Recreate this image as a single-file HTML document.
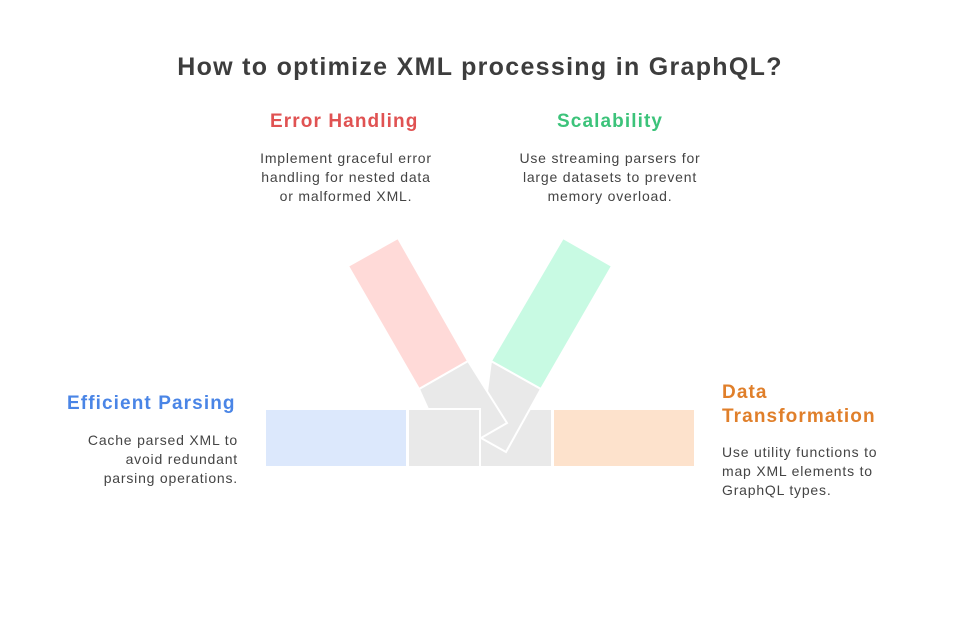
<!DOCTYPE html>
<html><head><meta charset="utf-8"><style>
body{margin:0;width:960px;height:624px;background:#fff;position:relative;overflow:hidden;font-family:"Liberation Sans",sans-serif}
.t{position:absolute;white-space:nowrap}
.h{font-weight:bold;font-size:19px;letter-spacing:1.1px}
.d{font-size:14px;line-height:19px;color:#444;letter-spacing:0.8px}
</style></head><body>
<div class="t" style="left:0;width:960px;text-align:center;top:53px;font-size:25px;font-weight:bold;color:#3d3d3d;letter-spacing:1.3px">How to optimize XML processing in GraphQL?</div>
<div class="t h" style="left:270px;top:111px;color:#e05252">Error Handling</div>
<div class="t d" style="left:236px;width:220px;text-align:center;top:149px">Implement graceful error<br>handling for nested data<br>or malformed XML.</div>
<div class="t h" style="left:557px;top:111px;color:#3cc37a">Scalability</div>
<div class="t d" style="left:500px;width:220px;text-align:center;top:149px">Use streaming parsers for<br>large datasets to prevent<br>memory overload.</div>
<div class="t h" style="left:67px;top:393px;color:#4a85e6">Efficient Parsing</div>
<div class="t d" style="left:38px;width:200px;text-align:right;top:431px">Cache parsed XML to<br>avoid redundant<br>parsing operations.</div>
<div class="t h" style="left:722px;top:381px;line-height:24px;color:#e07f2a">Data<br>Transformation</div>
<div class="t d" style="left:722px;top:443px">Use utility functions to<br>map XML elements to<br>GraphQL types.</div>
<svg width="960" height="624" style="position:absolute;left:0;top:0">
<g stroke="#fff" stroke-width="2" stroke-linejoin="miter">
<rect x="265" y="409" width="142" height="58" fill="#dce8fc"/>
<rect x="553" y="409" width="142" height="58" fill="#fde2cc"/>
<rect x="480" y="409" width="72" height="58" fill="#e9e9e9"/>
<polygon points="491,361 541,389 506,452 481,438" fill="#e9e9e9"/>
<polygon points="491,361 541,389 612,266 563,238" fill="#c8fae3"/>
<polygon points="419,389 468,361 507,423 481,438 428,409" fill="#e9e9e9"/>
<polygon points="419,389 468,361 398,238 348,266" fill="#ffdad8"/>
<rect x="408" y="409" width="72" height="58" fill="#e9e9e9"/>
</g>
</svg>
</body></html>
